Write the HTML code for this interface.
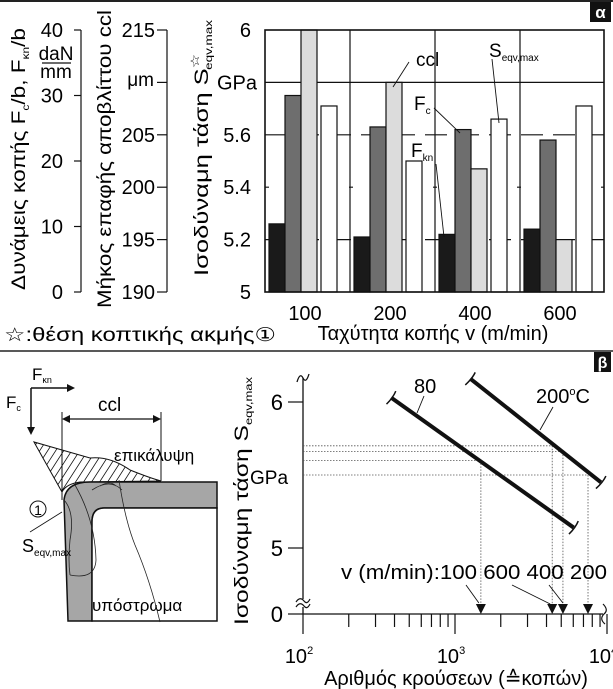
<!DOCTYPE html>
<html><head><meta charset="utf-8"><style>
html,body{margin:0;padding:0;background:#fff;}
svg{display:block;font-family:"Liberation Sans",sans-serif;}
</style></head><body>
<svg id="fig" width="613" height="689" viewBox="0 0 613 689" xmlns="http://www.w3.org/2000/svg">
<line x1="0" y1="1" x2="613" y2="1" stroke="#222" stroke-width="2"/>
<rect x="590" y="2" width="21" height="20" fill="#111"/>
<text x="600.5" y="18" font-size="17" font-weight="bold" fill="#fff" text-anchor="middle">α</text>

<g id="topg"></g>

<line x1="0" y1="351" x2="613" y2="351" stroke="#222" stroke-width="1.5"/>
<rect x="594" y="352" width="17" height="20" fill="#111"/>
<text x="602.5" y="368" font-size="16" font-weight="bold" fill="#fff" text-anchor="middle">β</text>

<g>
  <defs><clipPath id="hc"><path d="M34,442 L62,492 Q66,484 80,482 L161,481 Q150,478 130,470 Q110,456 90,458 Z"/></clipPath></defs>
  <path d="M34,442 L62,492 Q66,484 80,482 L161,481 Q150,478 130,470 Q110,456 90,458 Z" fill="none" stroke="#111" stroke-width="1"/>
  <g clip-path="url(#hc)" stroke="#111" stroke-width="0.8" id="hatch"></g>
  <path d="M68,621 L64,500 Q66,482 90,482 L217,482 L217,508 L104,508 Q92,508 92,522 L92,621 Z" fill="#a6a6a6" stroke="#111" stroke-width="1.5"/>
  <path d="M92,621 L92,522 Q92,508 104,508 L217,508 L217,621 Z" fill="#fff" stroke="#111" stroke-width="1.5"/>
  <path d="M64,500 Q75,512 70,540 Q68,560 70,575 M100,486 Q110,480 116,486 M92,490 Q110,478 122,490" fill="none" stroke="#222" stroke-width="0.8"/>
  <path d="M119,480 Q125,520 135,545 Q150,580 160,622" fill="none" stroke="#222" stroke-width="0.8"/>
  <path d="M75,485 Q95,520 96,560 Q95,580 70,575" fill="none" stroke="#222" stroke-width="0.8"/>
  <line x1="31" y1="388" x2="31" y2="430" stroke="#111" stroke-width="1.5"/>
  <polygon points="27,427 35,427 31,435" fill="#111"/>
  <line x1="31" y1="388" x2="70" y2="388" stroke="#111" stroke-width="1.5"/>
  <polygon points="67,384 67,392 75,388" fill="#111"/>
  <text x="32" y="380" font-size="17">F<tspan font-size="9" dy="3">κn</tspan></text>
  <text x="6" y="408" font-size="17">F<tspan font-size="9" dy="3">c</tspan></text>
  <line x1="62" y1="412" x2="62" y2="500" stroke="#111" stroke-width="1"/>
  <line x1="161" y1="412" x2="161" y2="481" stroke="#111" stroke-width="1"/>
  <line x1="64" y1="419" x2="159" y2="419" stroke="#111" stroke-width="1.2"/>
  <polygon points="62,419 70,415 70,423" fill="#111"/><polygon points="161,419 153,415 153,423" fill="#111"/>
  <text x="98" y="411" font-size="19">ccl</text>
  <text x="114" y="461" font-size="17">επικάλυψη</text>
  <circle cx="38" cy="509" r="8" fill="#fff" stroke="#111" stroke-width="1"/>
  <text x="38" y="515" font-size="14" text-anchor="middle">1</text>
  <line x1="30" y1="532" x2="62" y2="512" stroke="#111" stroke-width="0.8"/>
  <text x="22" y="552" font-size="18">S<tspan font-size="10" dy="4">eqv,max</tspan></text>
  <text x="92" y="611" font-size="17">υπόστρωμα</text>
</g>

<g id="bot"></g>
</svg>
<script>
// ---- Top bar chart data ----
const speeds = ["100","200","400","600"];
const fknValues = [10.4, 8.4, 8.8, 9.6];      // daN/mm
const fcValues = [30, 25.2, 24.8, 23.2];       // daN/mm
const cclValues = [215, 210, 201.75, 195];     // μm
const seqvValues = [5.71, 5.5, 5.66, 5.71];    // GPa
const forceTicks = [0,10,20,30,40];
const cclTicks = [190,195,200,205,210,215];
const stressTicks = ["5","5.2","5.4","5.6","GPa","6"];
// ---- Bottom chart data ----
const temps = ["80","200°C"];
const lineStartN = [380, 1260];
const lineStartS = [6.03, 6.16];
const lineEndN = [6030, 9120];
const lineEndS = [5.14, 5.45];
const arrowLabels = ["100","600","400","200"];
const arrowN = [1480, 4360, 5130, 7500];
const arrowS = [5.60, 5.70, 5.66, 5.50];

const NS="http://www.w3.org/2000/svg";
function mk(parent,tag,attrs,text){const e=document.createElementNS(NS,tag);for(const k in attrs)e.setAttribute(k,attrs[k]);if(text!==undefined)e.textContent=text;parent.appendChild(e);return e;}

// ===== TOP =====
const topG=document.getElementById('topg');
const Y0=292,Y1=30,H=Y0-Y1;
const yS=v=>Y0-(v-5)*H;
const yF=f=>Y0-f/40*H;
const yC=c=>Y0-(c-190)/25*H;
const PX0=265,PX1=604,GW=85;
[5.2,5.4,5.6].forEach(v=>{const l=mk(topG,'line',{x1:PX0,x2:PX1,y1:yS(v),y2:yS(v),stroke:'#111','stroke-width':1.2,'stroke-dasharray':v===5.4?'4 80':'22 10'});

});
{const l=mk(topG,'line',{x1:PX0,x2:PX1,y1:yS(5.8),y2:yS(5.8),stroke:'#111','stroke-width':1.3});

}
for(let i=1;i<4;i++){const x=PX0+i*GW;const l=mk(topG,'line',{x1:x,x2:x,y1:Y1,y2:Y0,stroke:'#111','stroke-width':1.2});

}
const series=[[fknValues,yF,'#1a1a1a',4],[fcValues,yF,'#6e6e6e',20],[cclValues,yC,'#dcdcdc',36],[seqvValues,yS,'#ffffff',56]];
const snames=['bar-fkn','bar-fc','bar-ccl','bar-seqv'];
speeds.forEach((s,i)=>{series.forEach((ser,j)=>{const x=PX0+i*GW+ser[3];const y=ser[1](ser[0][i]);
const b=mk(topG,'rect',{x:x,y:y,width:16,height:Y0-y,fill:ser[2],stroke:'#111','stroke-width':1.2});

});
const t=mk(topG,'text',{x:PX0+i*GW+40,y:320,'font-size':20,'text-anchor':'middle'},s);

});
{const f=mk(topG,'rect',{x:PX0,y:Y1,width:PX1-PX0,height:H,fill:'none',stroke:'#111','stroke-width':1.6});

}
stressTicks.forEach((t,i)=>{const v=5+i*0.2;const e=mk(topG,'text',{x:t==='GPa'?257:251,y:yS(v)+7,'font-size':20,'text-anchor':'end'},t);

});
{const a=mk(topG,'line',{x1:81,x2:81,y1:Y1,y2:Y0,stroke:'#111','stroke-width':1.2});

}
forceTicks.forEach(f=>{mk(topG,'line',{x1:74,x2:81,y1:yF(f),y2:yF(f),stroke:'#111','stroke-width':1.2});
const e=mk(topG,'text',{x:63,y:yF(f)+7,'font-size':20,'text-anchor':'end'},String(f));

});
{const a=mk(topG,'line',{x1:167,x2:167,y1:Y1,y2:Y0,stroke:'#111','stroke-width':1.2});

}
cclTicks.forEach(c=>{mk(topG,'line',{x1:157,x2:167,y1:yC(c),y2:yC(c),stroke:'#111','stroke-width':1.2});
if(c===210)return;
const e=mk(topG,'text',{x:155,y:yC(c)+7,'font-size':20,'text-anchor':'end'},String(c));

});
{const e=mk(topG,'text',{x:154,y:86,'font-size':19,'text-anchor':'end'},'μm');

}
function vtitle(parent,x,y,len,html,name){const t=mk(parent,'text',{transform:`translate(${x},${y}) rotate(-90)`,'font-size':19,textLength:len,lengthAdjust:'spacingAndGlyphs'});t.innerHTML=html;

return t;}
vtitle(topG,25,290,262,'Δυνάμεις κοπής F<tspan font-size="10" dy="4">c</tspan><tspan dy="-4">/b, F</tspan><tspan font-size="10" dy="4">κn</tspan><tspan dy="-4">/b</tspan>','force-axis-title');
vtitle(topG,111,308,298,'Μήκος επαφής αποβλίττου ccl','ccl-axis-title');
vtitle(topG,208,276,256,'Ισοδύναμη τάση S<tspan font-size="12" dy="-9">☆</tspan><tspan font-size="10" dx="-12" dy="13">eqv,max</tspan>','stress-axis-title');
mk(topG,'text',{x:56,y:60,'font-size':19,'text-anchor':'middle'},'daN');
mk(topG,'line',{x1:42,x2:71,y1:63,y2:63,stroke:'#111','stroke-width':1.3});
mk(topG,'text',{x:56,y:78,'font-size':19,'text-anchor':'middle'},'mm');
{const e=mk(topG,'text',{x:433,y:340,'font-size':20,'text-anchor':'middle'},'Ταχύτητα κοπής v (m/min)');

}
{const e=mk(topG,'text',{x:4,y:341,'font-size':19,textLength:272,lengthAdjust:'spacingAndGlyphs'},'☆:θέση κοπτικής ακμής①');

}
function ann(parent,x,y,html,lx1,ly1,lx2,ly2,name){const t=mk(parent,'text',{x:x,y:y,'font-size':19});t.innerHTML=html;


mk(parent,'line',{x1:lx1,y1:ly1,x2:lx2,y2:ly2,stroke:'#111','stroke-width':0.9});}
ann(topG,416,66,'ccl',409,62,393,87,'ccl-annotation');
ann(topG,489,57,'S<tspan font-size="10" dy="4">eqv,max</tspan>',492,59,499,123,'seqv-annotation');
ann(topG,414,110,'F<tspan font-size="10" dy="4">c</tspan>',434,108,460,133,'fc-annotation');
ann(topG,411,157,'F<tspan font-size="10" dy="4">kn</tspan>',436,164,444,237,'fkn-annotation');

// ===== BOTTOM =====
const bot=document.getElementById('bot');
const AX=303,X2=607,DEC=152,XY=614;
const xN=n=>AX+(Math.log10(n)-2)*DEC;
const yB=s=>402-(s-6)*146;
{const a=mk(bot,'line',{x1:AX,x2:AX,y1:378,y2:XY,stroke:'#111','stroke-width':1.3});

}
{const a=mk(bot,'line',{x1:AX,x2:X2-4,y1:XY,y2:XY,stroke:'#111','stroke-width':1.3});

}
mk(bot,'path',{d:`M${AX-6},382 Q${AX-3},372 ${AX},378 Q${AX+3},384 ${AX+6},374`,fill:'none',stroke:'#111','stroke-width':1.3});
mk(bot,'rect',{x:AX-8,y:599,width:16,height:8,fill:'#fff'});
mk(bot,'path',{d:`M${AX-7},602 Q${AX-3},596 ${AX+1},601 Q${AX+4},605 ${AX+7},599 M${AX-7},607 Q${AX-3},601 ${AX+1},606 Q${AX+4},610 ${AX+7},604`,fill:'none',stroke:'#111','stroke-width':1.2});
mk(bot,'path',{d:`M${X2-4},${XY-10} Q${X2+2},${XY-4} ${X2-3},${XY} Q${X2-8},${XY+5} ${X2-2},${XY+10}`,fill:'none',stroke:'#111','stroke-width':1.2});
[[6,'6'],[5,'5']].forEach(([v,l])=>{mk(bot,'line',{x1:AX-15,x2:AX,y1:yB(v),y2:yB(v),stroke:'#111','stroke-width':1.2});
const e=mk(bot,'text',{x:283,y:yB(v)+8,'font-size':22,'text-anchor':'end'},l);

});
mk(bot,'line',{x1:AX-15,x2:AX,y1:XY,y2:XY,stroke:'#111','stroke-width':1.2});
{const e=mk(bot,'text',{x:283,y:XY+8,'font-size':22,'text-anchor':'end'},'0');

}
for(let d=2;d<4;d++)for(let m=1;m<10;m++){const x=xN(m*Math.pow(10,d));mk(bot,'line',{x1:x,x2:x,y1:XY,y2:XY+(m===1?20:13),stroke:'#111','stroke-width':1.2});}
mk(bot,'line',{x1:xN(10000),x2:xN(10000),y1:XY,y2:XY+20,stroke:'#111','stroke-width':1.2});
[2,3,4].forEach(p=>{const e=mk(bot,'text',{x:xN(Math.pow(10,p))-4,y:663,'font-size':20,'text-anchor':'middle'});
e.innerHTML='10<tspan font-size="11" dy="-9">'+p+'</tspan>';

});
{const e=mk(bot,'text',{x:456,y:685,'font-size':20,'text-anchor':'middle'},'Αριθμός κρούσεων (≙κοπών)');

}
vtitle(bot,248,625,248,'Ισοδύναμη τάση S<tspan font-size="10" dy="4">eqv,max</tspan>','y-axis-title');
{const e=mk(bot,'text',{x:250,y:484,'font-size':19},'GPa');

}
arrowN.forEach((n,i)=>{const x=xN(n),y=yB(arrowS[i]);
mk(bot,'line',{x1:AX,x2:x,y1:y,y2:y,stroke:'#555','stroke-width':0.8,'stroke-dasharray':'1.5 1.5'});
mk(bot,'line',{x1:x,x2:x,y1:y,y2:XY-8,stroke:'#555','stroke-width':0.8,'stroke-dasharray':'1.5 1.5'});
const a=mk(bot,'polygon',{points:`${x-5},${XY-10} ${x+5},${XY-10} ${x},${XY}`,fill:'#111'});

});
{const e=mk(bot,'text',{x:341,y:579,'font-size':20,textLength:266,lengthAdjust:'spacingAndGlyphs'},'v (m/min):'+arrowLabels.join(' '));

}
mk(bot,'line',{x1:466,y1:585,x2:xN(arrowN[0])-2,y2:603,stroke:'#111','stroke-width':0.9});
mk(bot,'line',{x1:512,y1:585,x2:xN(arrowN[1])-2,y2:604,stroke:'#111','stroke-width':0.9});
mk(bot,'line',{x1:549,y1:585,x2:xN(arrowN[2]),y2:603,stroke:'#111','stroke-width':0.9});
temps.forEach((t,i)=>{const x1=xN(lineStartN[i]),y1=yB(lineStartS[i]),x2=xN(lineEndN[i]),y2=yB(lineEndS[i]);
const l=mk(bot,'line',{x1:x1,y1:y1,x2:x2,y2:y2,stroke:'#111','stroke-width':4});


const dx=x2-x1,dy=y2-y1,L=Math.hypot(dx,dy),px=-dy/L*8,py=dx/L*8;
[[x1,y1],[x2,y2]].forEach(([x,y])=>mk(bot,'path',{d:`M${x-px},${y-py} Q${x+2},${y} ${x+px},${y+py}`,fill:'none',stroke:'#111','stroke-width':1.5}));});
{const e=mk(bot,'text',{x:414,y:393,'font-size':20},temps[0]);

}
mk(bot,'line',{x1:424,y1:396,x2:417,y2:413,stroke:'#111','stroke-width':0.9});
{const e=mk(bot,'text',{x:536,y:403,'font-size':20});
e.innerHTML='200<tspan font-size="11" dy="-8">o</tspan><tspan dy="8">C</tspan>';

}
mk(bot,'line',{x1:553,y1:407,x2:540,y2:430,stroke:'#111','stroke-width':0.9});

const h=document.getElementById('hatch');
for(let k=-40;k<200;k+=8){mk(h,'line',{x1:k,y1:500,x2:k+45,y2:430});}
</script>
</body></html>
